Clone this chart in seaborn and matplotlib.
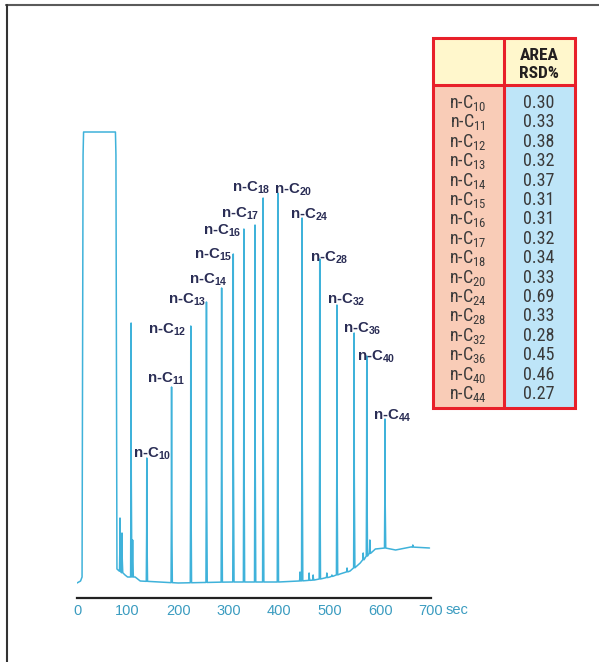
import numpy as np
import pandas as pd
import matplotlib
matplotlib.use('Agg')
import matplotlib.pyplot as plt
from matplotlib import font_manager
from matplotlib.patches import Rectangle
from matplotlib.lines import Line2D
import seaborn as sns

# n-alkane peaks: carbon number, retention time (sec), apex signal
carbons = ['10', '11', '12', '13', '14', '15', '16', '17', '18', '20',
           '24', '28', '32', '36', '40', '44']
peak_times = [138, 187, 225, 256, 286, 309, 330, 352, 368, 397,
              445, 480, 514, 548, 573, 609]
peak_apex = [127, 198, 259, 283, 297, 331, 356, 360, 387, 392,
             367, 326, 280, 252, 229, 166]
area_rsd = ['0.30', '0.33', '0.38', '0.32', '0.37', '0.31', '0.31', '0.32',
            '0.34', '0.33', '0.69', '0.33', '0.28', '0.45', '0.46', '0.27']

# small unlabelled peaks
minor_times = [85, 89, 107, 110, 441, 459, 467, 494, 504, 534, 566, 579, 664]
minor_apex = [67, 52, 262, 45, 13, 12, 10, 12, 10, 17, 32, 45, 40]

# solvent peak and baseline drift
solvent_times = [0, 7, 10, 12, 13, 76, 77, 79]
solvent_signal = [2, 4, 8, 430, 453, 453, 430, 16]
baseline_times = [95, 100, 115, 125, 200, 300, 400, 440, 470, 500, 520,
                  540, 560, 575, 590, 610, 630, 660, 697]
baseline_signal = [10, 8, 8, 4, 2, 3, 3, 4, 5, 8, 11, 14, 22, 30, 36,
                   37, 35, 38, 37]

# label offsets from apex, in pixels
label_dx = [5.5, -5.5, -23.5, -19.5, -13.5, -20.5, -21.5, -14.5, -11.5, 15.5,
            7, 9.5, 9, 8.5, 9.5, 7.5]
label_dy = [0.5, 5, -7, -1, 5, -4, -5, 8, 7, 0, 0, -2, 2, 1, -4, 0]

LINE = '#3fb2da'
NAVY = '#2a2d55'

# pick a narrow font for the table if one is there
have = {f.name for f in font_manager.fontManager.ttflist}
narrow = None
for name in ['Liberation Sans Narrow', 'Roboto Condensed', 'DejaVu Sans Condensed',
             'Open Sans Condensed', 'Noto Sans Condensed']:
    if name in have:
        narrow = name
        break
table_font = narrow if narrow else 'Liberation Sans'
table_size = 13 if narrow else 10.5

sns.set_style('white')
plt.rcParams['font.family'] = ['Liberation Sans', 'DejaVu Sans']
plt.rcParams['mathtext.fontset'] = 'custom'
plt.rcParams['mathtext.rm'] = table_font
plt.rcParams['mathtext.bf'] = 'Liberation Sans:bold'

# build the trace
bt = [solvent_times[-1]] + baseline_times
bv = [solvent_signal[-1]] + baseline_signal
all_t = peak_times + minor_times
all_h = peak_apex + minor_apex
rows = list(zip(solvent_times, solvent_signal))
for t, v in zip(baseline_times, baseline_signal):
    if min(abs(t - p) for p in all_t) > 3:
        rows.append((t, v))
for t, h in zip(all_t, all_h):
    b = np.interp(t, bt, bv)
    mid = b + 0.4 * (h - b)
    rows += [(t - 1.0, b), (t - 0.3, mid), (t, h), (t + 0.3, mid), (t + 1.5, b)]
trace = pd.DataFrame(rows, columns=['time', 'signal'])
trace = trace.sort_values('time', kind='mergesort').reset_index(drop=True)

fig = plt.figure(figsize=(5.99, 6.62), dpi=100)
fig.patch.set_facecolor('white')

# overlay in pixel coordinates for the frame and the table
ov = fig.add_axes([0, 0, 1, 1])
ov.set_xlim(0, 599)
ov.set_ylim(662, 0)
ov.axis('off')
ov.add_line(Line2D([6, 599], [5, 5], color='#5a5a5a', lw=1.5))
ov.add_line(Line2D([6.5, 6.5], [5, 662], color='#333333', lw=1.5))

RED = '#e8202a'
ov.add_patch(Rectangle((433, 38), 142, 47, facecolor='#fff7cc', edgecolor='none'))
ov.add_patch(Rectangle((433, 85), 71, 323, facecolor='#f9ccb7', edgecolor='none'))
ov.add_patch(Rectangle((504, 85), 71, 323, facecolor='#bee5f8', edgecolor='none'))
ov.add_patch(Rectangle((433, 38), 142, 370, facecolor='none', edgecolor=RED, lw=2.2))
ov.add_line(Line2D([504, 504], [38, 408], color=RED, lw=2.2))
ov.add_line(Line2D([433, 575], [85, 85], color=RED, lw=2.2))
ov.text(539, 55, 'AREA', ha='center', va='center', fontsize=table_size - 0.5,
        fontweight='bold', family=table_font, color='#231f20')
ov.text(539, 73, 'RSD%', ha='center', va='center', fontsize=table_size - 0.5,
        fontweight='bold', family=table_font, color='#231f20')
for i, (c, r) in enumerate(zip(carbons, area_rsd)):
    y = 108 + 19.4 * i
    ov.text(468, y, r'n-C$_{\mathrm{%s}}$' % c, ha='center', va='baseline',
            fontsize=table_size, family=table_font, color='#3a3a3a')
    ov.text(539, y, r, ha='center', va='baseline', fontsize=table_size,
            family=table_font, color='#3a3a3a')

# chromatogram
ax = fig.add_axes([77 / 599, 64 / 662, 354 / 599, 488 / 662])
ax.set_facecolor('none')
sns.lineplot(data=trace, x='time', y='signal', sort=False, estimator=None,
             color=LINE, lw=1.1, ax=ax)
ax.set_xlim(0, 700)
ax.set_ylim(-13, 475)
sns.despine(ax=ax, left=True)
ax.set_yticks([])
ax.set_xticks(range(0, 701, 100))
ax.set_xlabel('')
ax.set_ylabel('')
ax.spines['bottom'].set_linewidth(1.6)
ax.spines['bottom'].set_color('#222222')
ax.tick_params(axis='x', direction='in', length=5, width=1.5, color='#222222',
               labelcolor='#3b9cc0', labelsize=10.5, pad=4)
ax.annotate('sec', xy=(700, 0), xycoords=('data', 'axes fraction'),
            xytext=(15, -5.5), textcoords='offset pixels', ha='left', va='top',
            fontsize=10.5, color='#3b9cc0')

for c, t, h, dx, dy in zip(carbons, peak_times, peak_apex, label_dx, label_dy):
    ax.annotate(r'n-C$_{\mathbf{%s}}$' % c, xy=(t, h), xytext=(dx, dy),
                textcoords='offset pixels', ha='center', va='baseline',
                fontsize=10.8, fontweight='bold', color=NAVY)

fig.savefig('out.png', dpi=100)
